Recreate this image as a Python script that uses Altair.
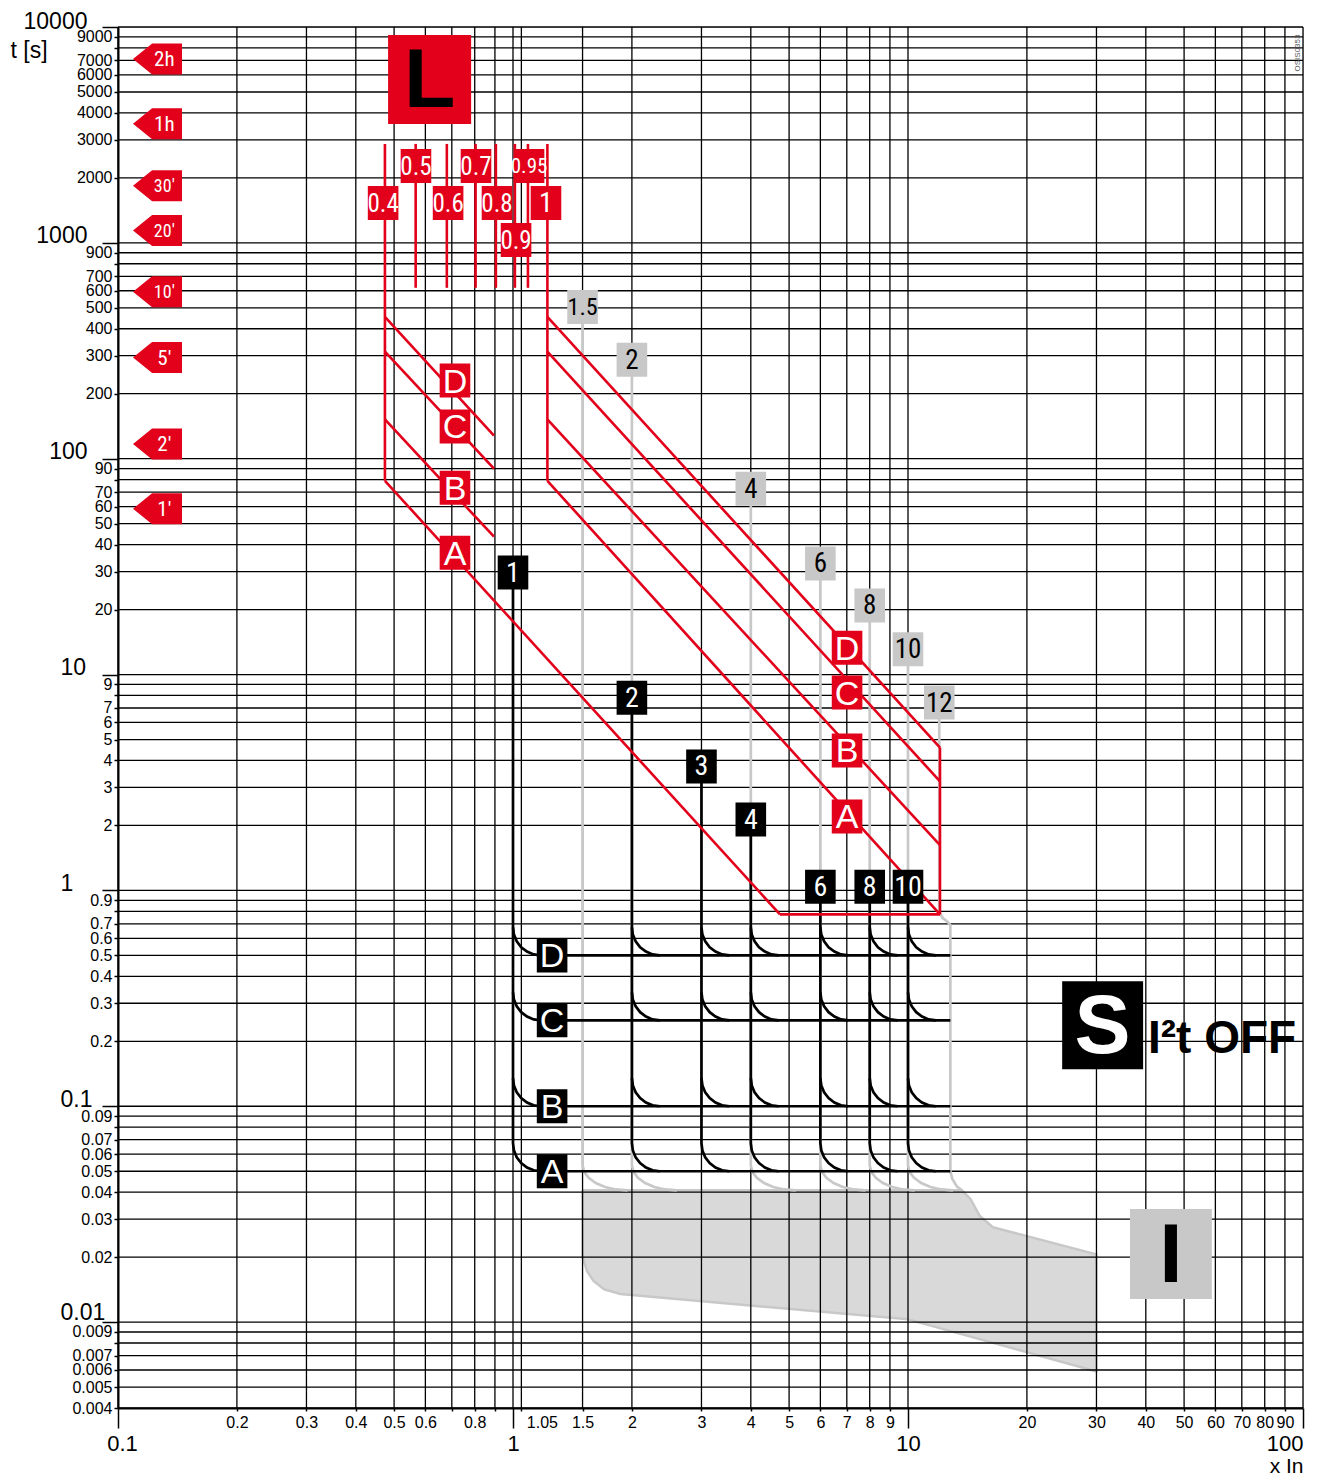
import json
import altair as alt
import pandas as pd

FONT_N = "Liberation Sans Narrow, Arial Narrow, Roboto Condensed, Liberation Sans, Arial, sans-serif"
FONT = "Liberation Sans, Arial, Helvetica, sans-serif"
RED = "#e2001a"
GLINE = "#c8c8c8"
GFILL = "#d9d9d9"

# ---------------- axes / grid ----------------
x_grid = [0.1, 0.2, 0.3, 0.4, 0.5, 0.6, 0.7, 0.8, 0.9, 1, 1.05, 1.5, 2, 3, 4, 5, 6, 7, 8, 9,
          10, 20, 30, 40, 50, 60, 70, 80, 90, 100]
x_labelled = [0.1, 0.2, 0.3, 0.4, 0.5, 0.6, 0.8, 1, 1.05, 1.5, 2, 3, 4, 5, 6, 7, 8, 9,
              10, 20, 30, 40, 50, 60, 70, 80, 90, 100]
x_decades = [0.1, 1, 10, 100]

y_grid = [0.004, 0.005, 0.006, 0.007, 0.008, 0.009,
          0.01, 0.02, 0.03, 0.04, 0.05, 0.06, 0.07, 0.08, 0.09,
          0.1, 0.2, 0.3, 0.4, 0.5, 0.6, 0.7, 0.8, 0.9,
          1, 2, 3, 4, 5, 6, 7, 8, 9,
          10, 20, 30, 40, 50, 60, 70, 80, 90,
          100, 200, 300, 400, 500, 600, 700, 800, 900,
          1000, 2000, 3000, 4000, 5000, 6000, 7000, 8000, 9000, 10000]
y_labelled = [0.004, 0.005, 0.006, 0.007, 0.009,
              0.01, 0.02, 0.03, 0.04, 0.05, 0.06, 0.07, 0.09,
              0.1, 0.2, 0.3, 0.4, 0.5, 0.6, 0.7, 0.9,
              1, 2, 3, 4, 5, 6, 7, 9,
              10, 20, 30, 40, 50, 60, 70, 90,
              100, 200, 300, 400, 500, 600, 700, 900,
              1000, 2000, 3000, 4000, 5000, 6000, 7000, 9000, 10000]
y_decades = [0.01, 0.1, 1, 10, 100, 1000, 10000]

# ---------------- L protection (red) ----------------
L_tick_x = [0.474, 0.567, 0.680, 0.804, 0.905, 1.011, 1.091, 1.222]
L_tick_top = [2873, 2873, 2873, 2873, 2873, 2873, 2873, 2873]
L_tick_bottom = [79, 619, 619, 619, 619, 619, 619, 79]
L_label_text = ["0.4", "0.5", "0.6", "0.7", "0.8", "0.9", "0.95", "1"]
L_label_x = [0.469, 0.568, 0.685, 0.806, 0.911, 1.018, 1.098, 1.212]
L_label_t = [1531, 2273, 1531, 2273, 1531, 1032, 2273, 1531]

L_curves = ["D", "C", "B", "A"]
L_start_t = [454, 313, 152, 79]
L_left_x0 = 0.474
L_left_end_x = [0.895, 0.895, 0.895, 4.74]
L_left_end_t = [128, 89.9, 43.5, 0.774]
L_right_x0 = 1.222
L_right_end_x = [12.05, 12.05, 12.05, 12.05]
L_right_end_t = [4.59, 3.2, 1.62, 0.774]
L_curve_label_x = [0.713, 7.01]
L_left_label_t = [230, 141, 73.4, 36.7]
L_right_label_t = [13.3, 8.25, 4.45, 2.2]

# ---------------- S protection (black) ----------------
S_set = [1, 2, 3, 4, 6, 8, 10]
S_set_text = ["1", "2", "3", "4", "6", "8", "10"]
S_top_t = [29.7, 7.8, 3.75, 2.13, 1.04, 1.04, 1.04]
S_levels = ["D", "C", "B", "A"]
S_level_t = [0.5, 0.25, 0.1, 0.05]
S_level_label_x = 1.256
S_h_start = 1.17
S_h_end = 12.8
S_corner_xf = [1.0, 1.0055, 1.022, 1.049, 1.085, 1.128, 1.177]
S_corner_tf = [1.348, 1.248, 1.161, 1.091, 1.041, 1.010, 1.0]

# ---------------- I protection (grey) ----------------
I_set = [1.5, 2, 4, 6, 8, 10]
I_label_x = [1.5, 2, 4, 6, 8, 10, 12]
I_label_text = ["1.5", "2", "4", "6", "8", "10", "12"]
I_label_t = [505, 287, 72.6, 32.7, 20.9, 13.1, 7.42]
I_top_t = 0.0408
I_corner_xf = [1.0, 1.009, 1.036, 1.080, 1.140, 1.214, 1.30]
I_corner_tf = [1.305, 1.218, 1.143, 1.081, 1.036, 1.009, 1.0]
I12_x = [12, 12, 12.25, 12.6, 12.8, 12.8, 12.95, 13.3, 13.7]
I12_t = [7.42, 0.79, 0.745, 0.715, 0.69, 0.05, 0.046, 0.0425, 0.0408]
region_x = [1.5, 13.7, 14.4, 15.2, 16.4, 30, 30, 10, 1.87, 1.7, 1.6, 1.54, 1.5, 1.5]
region_t = [0.0408, 0.0408, 0.0371, 0.031, 0.0275, 0.0206, 0.0059, 0.0103, 0.0135, 0.0142, 0.0155, 0.0172, 0.02, 0.0408]

# ---------------- time tags ----------------
tag_text = ["2h", "1h", "30'", "20'", "10'", "5'", "2'", "1'"]
tag_t = [7100, 3560, 1840, 1140, 593, 294, 117, 58.7]
tag_x = 0.1259
tag_text_x = 0.131

# big section boxes
L_box = (0.615, 5715)
S_box = (31.1, 0.237)
I_box = (46.3, 0.0207)
i2t_pos = (40.5, 0.204)


def line_rows(segments):
    rows = []
    for name, xs, ts in segments:
        for i, (x, t) in enumerate(zip(xs, ts)):
            rows.append({"seg": name, "o": i, "x": x, "t": t})
    return pd.DataFrame(rows)


# red segments
red_segs = []
for k, x in enumerate(L_tick_x):
    red_segs.append((f"tick{k}", [x, x], [L_tick_top[k], L_tick_bottom[k]]))
for k, c in enumerate(L_curves):
    red_segs.append((f"l{c}", [L_left_x0, L_left_end_x[k]], [L_start_t[k], L_left_end_t[k]]))
    red_segs.append((f"r{c}", [L_right_x0, L_right_end_x[k]], [L_start_t[k], L_right_end_t[k]]))
red_segs.append(("redge", [L_right_end_x[0], L_right_end_x[3]], [L_right_end_t[0], L_right_end_t[3]]))
red_segs.append(("bottom", [L_left_end_x[3], L_right_end_x[3]], [L_left_end_t[3], L_right_end_t[3]]))
red_df = line_rows(red_segs)

# black segments
black_segs = []
for k, s in enumerate(S_set):
    xs = [s] + [s * f for f in S_corner_xf]
    ts = [S_top_t[k]] + [S_level_t[-1] * f for f in S_corner_tf]
    black_segs.append((f"v{k}", xs, ts))
    for j, L in enumerate(S_level_t[:-1]):
        black_segs.append((f"c{k}_{j}", [s * f for f in S_corner_xf], [L * f for f in S_corner_tf]))
for j, L in enumerate(S_level_t):
    black_segs.append((f"h{j}", [S_h_start, S_h_end], [L, L]))
black_df = line_rows(black_segs)

# grey segments
grey_segs = []
for k, s in enumerate(I_set):
    xs = [s] + [s * f for f in I_corner_xf]
    ts = [I_label_t[k]] + [I_top_t * f for f in I_corner_tf]
    grey_segs.append((f"g{k}", xs, ts))
grey_segs.append(("g12", I12_x, I12_t))
grey_df = line_rows(grey_segs)

region_df = pd.DataFrame({"x": region_x, "t": region_t, "o": list(range(len(region_x)))})

# ---------------- scales and axes ----------------
xscale = alt.Scale(type="log", domain=[0.1, 100], nice=False)
yscale = alt.Scale(type="log", domain=[0.004, 10000], nice=False)

XDEC = "indexof(%s, datum.value) >= 0" % json.dumps(x_decades)
YDEC = "indexof(%s, datum.value) >= 0" % json.dumps(y_decades)
YDEC_SMALL = "(%s) && datum.value <= 10" % YDEC

x_axis = alt.Axis(
    values=x_grid, grid=False, labelOverlap=False, labelBound=False, labelFlush=False,
    labelExpr="indexof(%s, datum.value) >= 0 ? '' + datum.value : ''" % json.dumps(x_labelled),
    labelFont=FONT, labelColor="black",
    labelFontSize={"condition": {"test": XDEC, "value": 22}, "value": 16},
    tickSize={"condition": {"test": XDEC, "value": 20}, "value": 3},
    labelPadding={"condition": {"test": XDEC, "value": 5}, "value": 3},
    labelAlign={"condition": [{"test": "datum.value == 100", "value": "right"},
                              {"test": "datum.value == 1.05", "value": "left"}], "value": "center"},
    labelOffset={"condition": [{"test": "datum.value == 1.05", "value": 5},
                               {"test": "datum.value == 0.1", "value": 4}], "value": 0},
    labelBaseline="top",
    tickColor="black", tickWidth=1.5, domainColor="black", domainWidth=2,
    title="x In", titleX=1185, titleY=64, titleAlign="right", titleBaseline="alphabetic",
    titleFont=FONT, titleFontSize=21, titleFontWeight="normal", titleColor="black",
)

y_axis = alt.Axis(
    values=y_grid, grid=False, labelOverlap=False, labelBound=False, labelFlush=False,
    labelExpr="indexof(%s, datum.value) >= 0 ? '' + datum.value : ''" % json.dumps(y_labelled),
    labelFont=FONT, labelColor="black",
    labelFontSize={"condition": {"test": YDEC, "value": 23}, "value": 16},
    tickSize={"condition": {"test": YDEC, "value": 16}, "value": 4},
    labelPadding={"condition": [{"test": YDEC_SMALL, "value": 42}, {"test": YDEC, "value": 15}], "value": 2},
    labelAlign={"condition": {"test": YDEC_SMALL, "value": "left"}, "value": "right"},
    labelBaseline={"condition": {"test": YDEC, "value": "alphabetic"}, "value": "middle"},
    labelOffset={"condition": [{"test": "datum.value == 10000", "value": 1},
                               {"test": "datum.value == 0.01", "value": -3}], "value": 0},
    tickColor="black", tickWidth=1.5, domainColor="black", domainWidth=2,
    title="t [s]", titleAngle=0, titleX=-108, titleY=23, titleAlign="left", titleBaseline="middle",
    titleFont=FONT, titleFontSize=23, titleFontWeight="normal", titleColor="black",
)

X = alt.X("x:Q", scale=xscale, axis=x_axis)
Y = alt.Y("t:Q", scale=yscale, axis=y_axis)

BOX = "M -0.9 -1 L 0.9 -1 L 0.9 1 L -0.9 1 Z"
TAG = "M -1 0 L -0.22 -0.633 L 1 -0.633 L 1 0.633 L -0.22 0.633 Z"

region = alt.Chart(region_df).mark_line(
    fill=GFILL, stroke=GLINE, strokeWidth=2.5, strokeJoin="round"
).encode(X, Y, order="o:Q")

vrules = alt.Chart(pd.DataFrame({"x": x_grid})).mark_rule(color="black", strokeWidth=1.3).encode(x=X)
hrules = alt.Chart(pd.DataFrame({"t": y_grid})).mark_rule(color="black", strokeWidth=1.3).encode(y=Y)

grey_lines = alt.Chart(grey_df).mark_line(color=GLINE, strokeWidth=2.7).encode(X, Y, detail="seg:N", order="o:Q")
black_lines = alt.Chart(black_df).mark_line(color="black", strokeWidth=2.7).encode(X, Y, detail="seg:N", order="o:Q")
red_lines = alt.Chart(red_df).mark_line(color=RED, strokeWidth=2.6).encode(X, Y, detail="seg:N", order="o:Q")


def labels(df, box_color, text_color, font_size, font=FONT_N, size=1156, shape=BOX, tx=None, dy=1):
    pts = alt.Chart(df).mark_point(shape=shape, filled=True, color=box_color, opacity=1,
                                   size=size, strokeWidth=0).encode(X, Y)
    tdf = df if tx is None else df.assign(x=tx)
    # longer labels are set a little smaller so that they stay inside their box
    tdf = tdf.assign(fs=[font_size if len(s) < 3 else (font_size - 3 if len(s) == 3 else font_size - 7)
                         for s in tdf["label"]])
    txt = alt.Chart(tdf).mark_text(font=font, color=text_color,
                                   align="center", baseline="middle", dy=dy).encode(
        X, Y, text="label:N", size=alt.Size("fs:Q", scale=None, legend=None))
    return [pts, txt]


Lset_df = pd.DataFrame({"x": L_label_x, "t": L_label_t, "label": L_label_text})
Lcurve_df = pd.DataFrame({
    "x": [L_curve_label_x[0]] * 4 + [L_curve_label_x[1]] * 4,
    "t": L_left_label_t + L_right_label_t,
    "label": L_curves + L_curves})
Sset_df = pd.DataFrame({"x": S_set, "t": S_top_t, "label": S_set_text})
Slev_df = pd.DataFrame({"x": [S_level_label_x] * 4, "t": S_level_t, "label": S_levels})
Iset_df = pd.DataFrame({"x": I_label_x, "t": I_label_t, "label": I_label_text})
tag_df = pd.DataFrame({"x": [tag_x] * len(tag_t), "t": tag_t, "label": tag_text})

layers = [region, vrules, hrules, grey_lines, black_lines, red_lines]
layers += labels(Iset_df, GLINE, "black", 27)
layers += labels(Sset_df, "black", "white", 28)
layers += labels(Slev_df, "black", "white", 34, font=FONT, dy=2)
layers += labels(Lcurve_df, RED, "white", 34, font=FONT, dy=2)
layers += labels(Lset_df, RED, "white", 28)
layers += labels(tag_df, RED, "white", 21, size=2401, shape=TAG, tx=tag_text_x)

big_L = pd.DataFrame({"x": [L_box[0]], "t": [L_box[1]], "label": ["L"]})
big_S = pd.DataFrame({"x": [S_box[0]], "t": [S_box[1]], "label": ["S"]})
big_I = pd.DataFrame({"x": [I_box[0]], "t": [I_box[1]], "label": ["I"]})
for df, bc, tc, sz, w in [(big_L, RED, "black", 7921, 0.933), (big_S, "black", "white", 7744, 0.92),
                          (big_I, GLINE, "black", 8100, 0.91)]:
    shp = f"M -{w} -1 L {w} -1 L {w} 1 L -{w} 1 Z"
    layers.append(alt.Chart(df).mark_point(shape=shp, filled=True, color=bc, opacity=1, size=sz,
                                           strokeWidth=0).encode(X, Y))
    layers.append(alt.Chart(df).mark_text(font=FONT, fontWeight="bold", fontSize=84, color=tc,
                                          align="center", baseline="middle", dy=3).encode(X, Y, text="label:N"))

i2t_df = pd.DataFrame({"x": [i2t_pos[0]], "t": [i2t_pos[1]], "label": ["I²t OFF"]})
layers.append(alt.Chart(i2t_df).mark_text(font=FONT, fontWeight="bold", fontSize=46, color="black",
                                          align="left", baseline="middle").encode(X, Y, text="label:N"))

code_df = pd.DataFrame({"label": ["OSIS0353"]})
layers.append(alt.Chart(code_df).mark_text(font=FONT, fontSize=8, color="#555555", angle=270,
                                           align="center", baseline="middle").encode(
    x=alt.value(1180), y=alt.value(26), text="label:N"))

chart = alt.layer(*layers).properties(
    width=1185, height=1381,
    padding={"left": 110, "top": 19, "right": 6, "bottom": 68},
    autosize=alt.AutoSizeParams(type="none"),
).configure_view(strokeWidth=0).configure(background="white")

chart.save("out.html", embed_options={"renderer": "svg", "actions": False})
